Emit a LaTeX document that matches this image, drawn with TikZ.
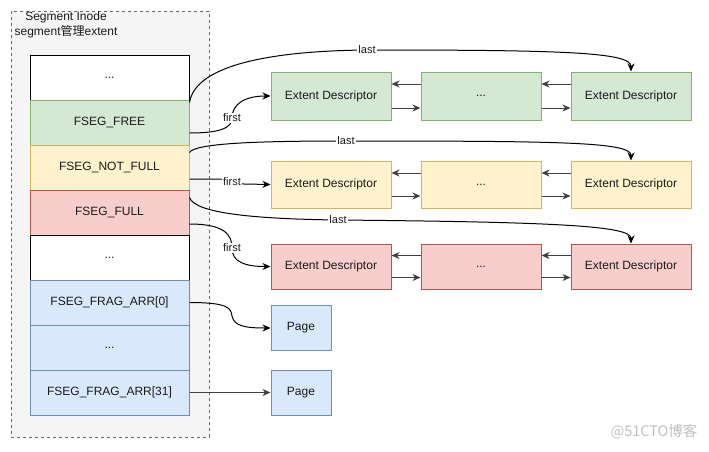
\documentclass[tikz,border=0pt]{standalone}
\usepackage{fontspec}
\setmainfont{Liberation Sans}
\newfontfamily\cjkfont{Noto Sans CJK SC}
\usetikzlibrary{arrows.meta}
\definecolor{gfill}{HTML}{D5E8D4}\definecolor{gline}{HTML}{82B366}
\definecolor{yfill}{HTML}{FFF2CC}\definecolor{yline}{HTML}{D6B656}
\definecolor{rfill}{HTML}{F8CECC}\definecolor{rline}{HTML}{B85450}
\definecolor{bfill}{HTML}{DAE8FC}\definecolor{bline}{HTML}{6C8EBF}
\definecolor{cfill}{HTML}{F5F5F5}\definecolor{cline}{HTML}{666666}
\definecolor{txt}{HTML}{1A1A1A}
\tikzset{
  container/.style={draw=cline, fill=cfill, dash pattern=on 3pt off 3pt, line width=1pt, minimum width=198pt, minimum height=426pt, inner sep=0pt},
  rowbox/.style={draw, line width=1pt, minimum width=159pt, minimum height=45pt, inner sep=0pt, text=txt},
  extbox/.style={draw, line width=1pt, minimum width=120pt, minimum height=48pt, inner sep=0pt, text=txt},
  pagebox/.style={draw=bline, fill=bfill, line width=1pt, minimum width=60pt, minimum height=45pt, inner sep=0pt, text=txt},
  green/.style={draw=gline, fill=gfill},
  yellow/.style={draw=yline, fill=yfill},
  red/.style={draw=rline, fill=rfill},
  blue/.style={draw=bline, fill=bfill},
  plain/.style={draw=black, fill=white},
  arr/.style={-{Stealth[length=8pt,width=7pt,inset=2.5pt]}, line width=1pt, draw=black},
  link/.style={-{Stealth[length=8pt,width=7pt,inset=2.5pt]}, line width=1pt, draw=black!75},
  lbl/.style={fill=white, inner sep=1pt, text=txt, font=\fontsize{11}{13}\selectfont},
}
\begin{document}
\begin{tikzpicture}[x=1pt,y=-1pt,font=\fontsize{12}{14}\selectfont]
\useasboundingbox (0,0) rectangle (709,451);
\node[container] (cont) at (110,224) {};
\node[align=center, text=txt, font=\fontsize{12}{15.5}\selectfont] (title) at (66,25) {Segment Inode\\segment{\cjkfont 管理}extent};

% stack
\node[rowbox, plain]  (top)     at (109.5,77.5)  {...};
\node[rowbox, green]  (free)    at (109.5,122.5) {FSEG\_FREE};
\node[rowbox, yellow] (notfull) at (109.5,167.5) {FSEG\_NOT\_FULL};
\node[rowbox, red]    (full)    at (109.5,212.5) {FSEG\_FULL};
\node[rowbox, plain]  (mid)     at (109.5,257.5) {...};
\node[rowbox, blue]   (frag0)   at (109.5,302.5) {FSEG\_FRAG\_ARR[0]};
\node[rowbox, blue]   (fragdots) at (109.5,347.5) {...};
\node[rowbox, blue]   (frag31)  at (109.5,392.5) {FSEG\_FRAG\_ARR[31]};

% extent rows
\node[extbox, green] (g1) at (331,96) {Extent Descriptor};
\node[extbox, green] (g2) at (481,96) {...};
\node[extbox, green] (g3) at (631,96) {Extent Descriptor};
\node[extbox, yellow, minimum height=47pt] (y1) at (331,184.5) {Extent Descriptor};
\node[extbox, yellow, minimum height=47pt] (y2) at (481,184.5) {...};
\node[extbox, yellow, minimum height=47pt] (y3) at (631,184.5) {Extent Descriptor};
\node[extbox, red, minimum height=45pt] (r1) at (331,266.5) {Extent Descriptor};
\node[extbox, red, minimum height=45pt] (r2) at (481,266.5) {...};
\node[extbox, red, minimum height=45pt] (r3) at (631,266.5) {Extent Descriptor};

% pages
\node[pagebox] (p1) at (301,328) {Page};
\node[pagebox] (p2) at (301,392.5) {Page};

% links between descriptors
\foreach \a/\b/\d in {g1/g2/12, g2/g3/12, y1/y2/11.5, y2/y3/11.5, r1/r2/11, r2/r3/11}{
  \draw[link] ([yshift=\d pt]\b.west) -- ([yshift=\d pt]\a.east);
  \draw[link] ([yshift=-\d pt]\a.east) -- ([yshift=-\d pt]\b.west);
}

% first / last pointers
\draw[arr] ([yshift=-3pt]free.north east) .. controls (195,68) and (260,51) .. (367,50) node[lbl] {last}
  .. controls (560,50) and (631,52) .. (g3.north);
\draw[arr] ([yshift=-10.5pt]free.east) .. controls (220,133) and (232,128) .. (232,118) node[lbl] {first}
  .. controls (232,104) and (245,96) .. (g1.west);

\draw[arr] ([yshift=-8pt]notfull.north east) .. controls (195,143) and (260,141) .. (346,141) node[lbl] {last}
  .. controls (560,141) and (631,142) .. (y3.north);
\draw[arr] ([yshift=-11.5pt]notfull.east) -- (220,179) .. controls (227,179) and (229,181.5) .. (232,181.5) node[lbl] {first}
  .. controls (235,181.5) and (237,184) .. (244,184) -- (y1.west);

\draw[arr] ([yshift=-8pt]full.north east) .. controls (195,214) and (260,219) .. (338,220) node[lbl] {last}
  .. controls (560,222) and (631,226) .. (r3.north);
\draw[arr] ([yshift=-11.5pt]full.east) .. controls (225,224) and (232,235) .. (232,248) node[lbl] {first}
  .. controls (232,262) and (245,266.5) .. (r1.west);

\draw[arr] (frag0.east) .. controls (228,302.5) and (231,308) .. (232,316)
  .. controls (234,326) and (245,328) .. (p1.west);
\draw[link] (frag31.east) -- (p2.west);

\node[text=black!25, font=\cjkfont\fontsize{14.5}{16}\selectfont] (wm) at (654,432) {@51CTO博客};
\end{tikzpicture}
\end{document}
